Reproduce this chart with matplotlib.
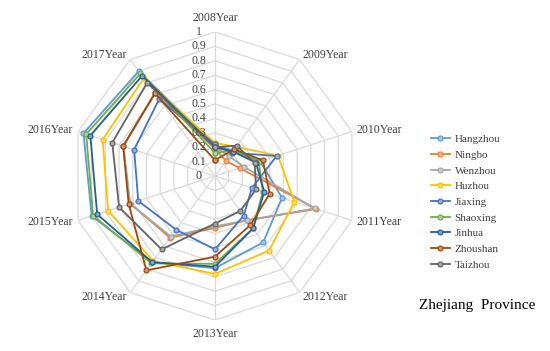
import numpy as np
import matplotlib
matplotlib.use("Agg")
import matplotlib.pyplot as plt
from matplotlib.colors import to_rgb
from matplotlib.transforms import ScaledTranslation

plt.rcParams['font.family'] = ['Liberation Serif', 'DejaVu Serif']

years = ['2008Year', '2009Year', '2010Year', '2011Year', '2012Year',
         '2013Year', '2014Year', '2015Year', '2016Year', '2017Year']

hangzhou = [0.21, 0.22, 0.33, 0.49, 0.57, 0.64, 0.74, 0.90, 0.96, 0.90]
ningbo   = [0.19, 0.13, 0.18, 0.74, 0.38, 0.36, 0.53, 0.62, 0.67, 0.71]
wenzhou  = [0.20, 0.17, 0.21, 0.73, 0.38, 0.35, 0.52, 0.62, 0.67, 0.71]
huzhou   = [0.23, 0.25, 0.46, 0.58, 0.64, 0.68, 0.73, 0.78, 0.82, 0.84]
jiaxing  = [0.22, 0.20, 0.45, 0.27, 0.34, 0.51, 0.46, 0.56, 0.59, 0.66]
shaoxing = [0.16, 0.22, 0.32, 0.35, 0.45, 0.61, 0.75, 0.89, 0.94, 0.88]
jinhua   = [0.20, 0.21, 0.30, 0.36, 0.45, 0.63, 0.74, 0.86, 0.91, 0.86]
zhoushan = [0.11, 0.23, 0.35, 0.40, 0.42, 0.56, 0.81, 0.63, 0.67, 0.71]
taizhou  = [0.20, 0.26, 0.29, 0.30, 0.30, 0.33, 0.63, 0.70, 0.75, 0.80]

cities = ['Hangzhou', 'Ningbo', 'Wenzhou', 'Huzhou', 'Jiaxing',
          'Shaoxing', 'Jinhua', 'Zhoushan', 'Taizhou']
series = [hangzhou, ningbo, wenzhou, huzhou, jiaxing,
          shaoxing, jinhua, zhoushan, taizhou]
colors = ['#5B9BD5', '#ED7D31', '#A5A5A5', '#FFC000', '#4472C4',
          '#70AD47', '#255E91', '#9E480E', '#636363']

levels = np.arange(0, 1.01, 0.1)

n = len(years)
angles = np.linspace(0, 2 * np.pi, n, endpoint=False)
closed = np.append(angles, angles[0])

fig = plt.figure(figsize=(5.5, 3.51), dpi=100)
ax = fig.add_axes([0.129, 0.0883, 0.5236, 0.8205], projection='polar')
ax.set_theta_zero_location('N')
ax.set_theta_direction(-1)
ax.set_ylim(0, 1)
ax.grid(False)
ax.spines['polar'].set_visible(False)
ax.set_xticks([])
ax.set_yticks([])

# decagon grid
grid_c = '#D9D9D9'
for lv in levels[1:]:
    ax.plot(closed, [lv] * (n + 1), color=grid_c, lw=0.9, zorder=1)
for a in angles:
    ax.plot([a, a], [0, 1], color=grid_c, lw=0.9, zorder=1)

# radial value labels
shift = ax.transData + ScaledTranslation(-11.5/72, 0, fig.dpi_scale_trans)
for lv in levels:
    ax.text(0, lv, '%g' % round(lv, 1), ha='center', va='center',
            fontsize=8.5, color='#404040', zorder=5, transform=shift)

# category labels
for a, lab in zip(angles, years):
    s = np.sin(a)
    if abs(s) < 0.1:
        ha, r = 'center', 1.1
    elif s > 0:
        ha, r = 'left', 1.035
    else:
        ha, r = 'right', 1.035
    ax.text(a, r, lab, ha=ha, va='center', fontsize=8.5, color='#404040')

for name, vals, c in zip(cities, series, colors):
    v = np.append(vals, vals[0])
    light = tuple(0.55 * np.array(to_rgb(c)) + 0.45)
    ax.plot(closed, v, color=c, lw=1.3, marker='o', ms=3.5,
            markerfacecolor=light, markeredgecolor=c, markeredgewidth=0.9,
            label=name, zorder=3)

fig.legend(loc='upper left', bbox_to_anchor=(0.765, 0.645), frameon=False,
           fontsize=8, handlelength=1.7, labelspacing=0.53, handletextpad=0.45,
           labelcolor='#404040')

fig.text(0.762, 0.131, 'Zhejiang  Province', fontsize=11, color='black',
         va='center')

fig.savefig('out.png', dpi=100)
